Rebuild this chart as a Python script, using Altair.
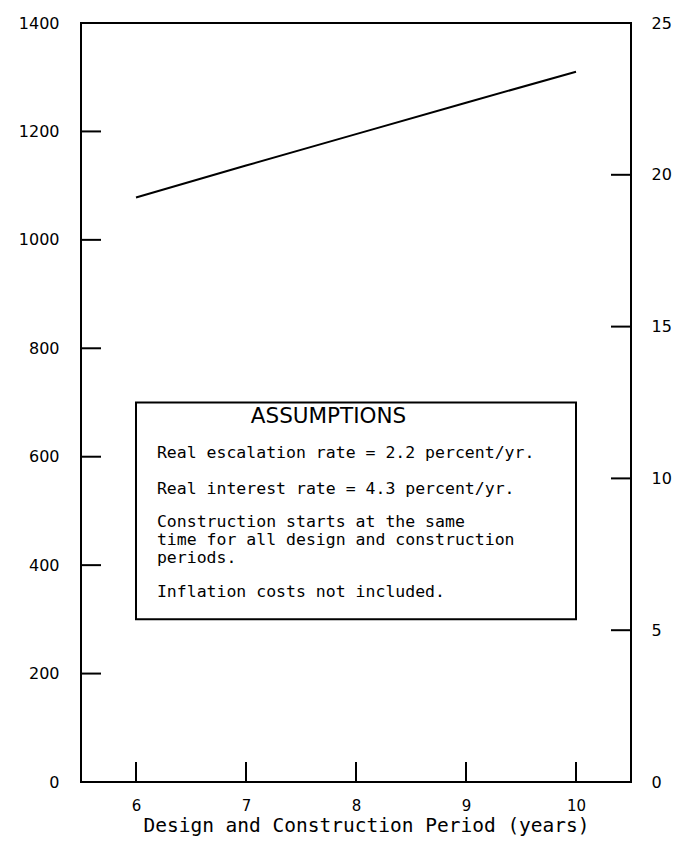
import altair as alt
import pandas as pd

# ---- data ----
period_years = [6, 7, 8, 9, 10]
cost_values = [1078, 1137, 1195, 1253, 1310]

x_tick_values = [6, 7, 8, 9, 10]
left_tick_values = [200, 400, 600, 800, 1000, 1200]
right_tick_values = [5, 10, 15, 20]
left_axis_values = [0, 200, 400, 600, 800, 1000, 1200, 1400]
right_axis_values = [0, 5, 10, 15, 20, 25]

box_x = [6, 10]
box_y = [300, 700]
box_heading = "ASSUMPTIONS"
box_lines = [
    "Real escalation rate = 2.2 percent/yr.",
    "Real interest rate = 4.3 percent/yr.",
    "Construction starts at the same",
    "time for all design and construction",
    "periods.",
    "Inflation costs not included.",
]
box_line_y = [607, 541, 479, 446, 413, 351]
box_line_x = 6.19
heading_pos = [7.75, 673]

W, H = 550, 759
TICK = 20
MONO = "DejaVu Sans Mono"
SANS = "DejaVu Sans"

xscale = alt.Scale(domain=[5.5, 10.5], nice=False, zero=False)
yl = alt.Scale(domain=[0, 1400], nice=False)
yr = alt.Scale(domain=[0, 25], nice=False)

xaxis = alt.Axis(
    values=x_tick_values, ticks=False, domain=False, grid=False,
    labelFont=SANS, labelFontSize=15, labelColor="black", labelPadding=16,
    title="Design and Construction Period (years)", titleFont=MONO,
    titleFontSize=19.5, titleFontWeight="normal", titleColor="black",
    titlePadding=3, titleX=W / 2 + 10,
)
ylaxis = alt.Axis(
    values=left_axis_values, ticks=False, domain=False, grid=False, format="d",
    labelFont=SANS, labelFontSize=16, labelColor="black", labelPadding=22,
    title=None,
)
yraxis = alt.Axis(
    orient="right", values=right_axis_values, ticks=False, domain=False,
    grid=False, format="d", labelFont=SANS, labelFontSize=16,
    labelColor="black", labelPadding=20, title=None,
)


def X(field):
    return alt.X(field, scale=xscale, axis=xaxis)


def YL(field):
    return alt.Y(field, scale=yl, axis=ylaxis)


line_df = pd.DataFrame({"x": period_years, "y": cost_values})

base_line = alt.Chart(line_df).mark_line(color="black", strokeWidth=2).encode(
    x=X("x:Q"), y=YL("y:Q"),
)

left_ticks = alt.Chart(pd.DataFrame({"y": left_tick_values})).mark_rule(
    color="black", strokeWidth=2
).encode(
    y=YL("y:Q"), x=alt.value(0), x2=alt.value(TICK),
)

bottom_ticks = alt.Chart(pd.DataFrame({"x": x_tick_values})).mark_rule(
    color="black", strokeWidth=2
).encode(
    x=X("x:Q"), y=alt.value(H), y2=alt.value(H - TICK),
)

box = alt.Chart(pd.DataFrame({
    "x": [box_x[0]], "x2": [box_x[1]], "y": [box_y[0]], "y2": [box_y[1]]
})).mark_rect(fill="white", stroke="black", strokeWidth=2).encode(
    x=X("x:Q"), x2="x2:Q", y=YL("y:Q"), y2="y2:Q",
)

heading = alt.Chart(pd.DataFrame({
    "x": [heading_pos[0]], "y": [heading_pos[1]], "t": [box_heading]
})).mark_text(font=SANS, fontSize=21.5, color="black", align="center",
              baseline="middle").encode(
    x=X("x:Q"), y=YL("y:Q"), text="t:N",
)

body = alt.Chart(pd.DataFrame({
    "x": [box_line_x] * len(box_lines), "y": box_line_y, "t": box_lines
})).mark_text(font=MONO, fontSize=16.5, color="black", align="left",
              baseline="middle").encode(
    x=X("x:Q"), y=YL("y:Q"), text="t:N",
)

left_layer = alt.layer(base_line, left_ticks, bottom_ticks, box, heading, body)

right_ticks = alt.Chart(pd.DataFrame({"r": right_tick_values})).mark_rule(
    color="black", strokeWidth=2
).encode(
    y=alt.Y("r:Q", scale=yr, axis=yraxis),
    x=alt.value(W - TICK), x2=alt.value(W),
)

chart = alt.layer(left_layer, right_ticks).resolve_scale(y="independent").properties(
    width=W, height=H,
    padding={"left": 73, "top": 15, "right": 48, "bottom": 58},
    autosize=alt.AutoSizeParams(type="none"),
    background="white",
).configure_view(stroke="black", strokeWidth=2)

chart.save("out.html", embed_options={"renderer": "svg", "actions": False})
